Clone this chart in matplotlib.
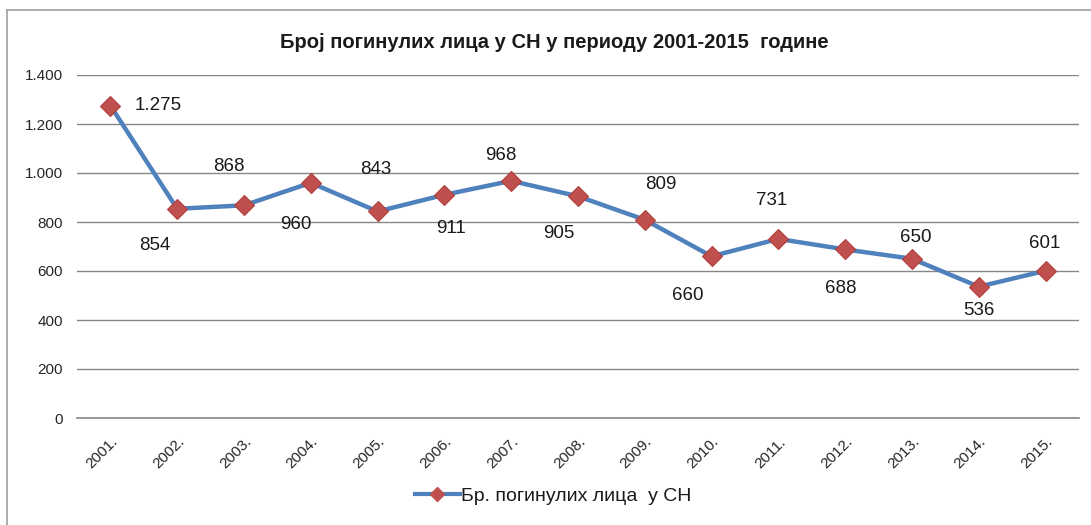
import matplotlib
matplotlib.use("Agg")
from matplotlib import pyplot as plt
from matplotlib.lines import Line2D

###################### data #############################
years = ["2001.", "2002.", "2003.", "2004.", "2005.", "2006.", "2007.", "2008.",
         "2009.", "2010.", "2011.", "2012.", "2013.", "2014.", "2015."]
killed = [1275, 854, 868, 960, 843, 911, 968, 905, 809, 660, 731, 688, 650, 536, 601]
value_labels = ["1.275", "854", "868", "960", "843", "911", "968", "905",
                "809", "660", "731", "688", "650", "536", "601"]
y_ticks = [0, 200, 400, 600, 800, 1000, 1200, 1400]
y_tick_labels = ["0", "200", "400", "600", "800", "1.000", "1.200", "1.400"]
title = "Број погинулих лица у СН у периоду 2001-2015  године"
series_name = "Бр. погинулих лица  у СН"

# label offsets in pixels (dx, dy up) like excel placed them
label_offsets = [(48, 0), (-22, -37), (-15, 39), (-15, -42), (-2, 42), (7, -34),
                 (-10, 25), (-19, -37), (16, 35), (-24, -39), (-7, 38), (-4, -39),
                 (4, 21), (0, -24), (-1, 27)]

line_col = '#4F81BD'
marker_col = '#C0504D'
grid_col = '#868686'

plt.rcParams['font.family'] = ['Liberation Sans', 'DejaVu Sans']

W, H = 1091, 525
fig = plt.figure(figsize=(W / 100, H / 100), dpi=100)
ax = fig.add_axes([77 / W, 1 - 418 / H, (1079 - 77) / W, (418 - 75) / H])

x = list(range(len(years)))
ax.plot(x, killed, color=line_col, lw=3.2, marker='D', markersize=10,
        markerfacecolor=marker_col, markeredgecolor='#B0403D', markeredgewidth=0.8,
        zorder=3)

for i, (v, lab) in enumerate(zip(killed, value_labels)):
    dx, dy = label_offsets[i]
    ax.annotate(lab, (i, v), xytext=(dx, dy), textcoords='offset pixels',
                ha='center', va='center', fontsize=13.5, color='#1a1a1a')

ax.set_xlim(-0.5, len(years) - 0.5)
ax.set_ylim(0, 1400)
ax.set_yticks(y_ticks)
ax.set_yticklabels(y_tick_labels)
ax.set_xticks(x)
ax.set_xticklabels(years, rotation=45, ha='right', rotation_mode='anchor')
ax.tick_params(axis='y', length=0, pad=10, labelsize=11, labelcolor='#262626')
ax.tick_params(axis='x', length=0, pad=12, labelsize=11, labelcolor='#262626')
ax.grid(axis='y', color=grid_col, lw=1)
ax.axhline(0, color=grid_col, lw=1.2, clip_on=False, zorder=1)
ax.set_axisbelow(True)
for s in ax.spines.values():
    s.set_visible(False)

fig.text(554 / W, 1 - 42 / H, title, ha='center', va='center',
         fontsize=14.5, fontweight='bold', color='#1a1a1a')

handle = Line2D([], [], color=line_col, lw=3, marker='D', markersize=7,
                markerfacecolor=marker_col, markeredgecolor=marker_col)
fig.legend(handles=[handle], labels=[series_name], loc='center',
           bbox_to_anchor=(553 / W, 1 - 496 / H), frameon=False,
           fontsize=14, handlelength=2.3, handletextpad=0.05, labelcolor='#1a1a1a')

# outer chart border (left and top visible in the crop)
fig.add_artist(Line2D([7 / W, 7 / W], [0, 1 - 10 / H], color='#a0a0a0', lw=1.2))
fig.add_artist(Line2D([7 / W, 1], [1 - 10 / H, 1 - 10 / H], color='#a0a0a0', lw=1.2))

fig.savefig("out.png", dpi=100)
